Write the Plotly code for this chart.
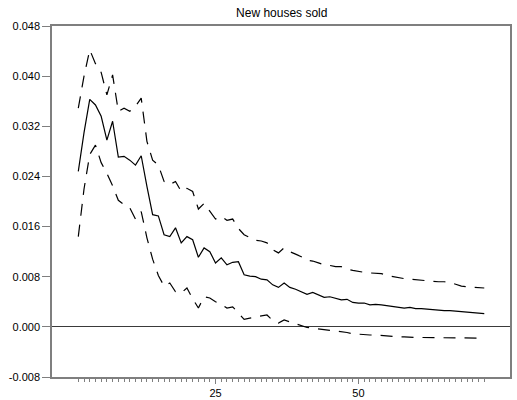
import plotly.graph_objects as go

# Impulse response of new houses sold, with upper/lower error bands
horizon = list(range(1, 73))

response = [
    0.0248, 0.0310, 0.0363, 0.0354, 0.0336, 0.0298, 0.0328, 0.0271, 0.0272, 0.0266,
    0.0258, 0.0273, 0.0224, 0.0179, 0.0177, 0.0147, 0.0144, 0.0158, 0.0134, 0.0144,
    0.0139, 0.0111, 0.0126, 0.0120, 0.0102, 0.0110, 0.0099, 0.0103, 0.0104, 0.0083,
    0.0081, 0.0080, 0.0076, 0.0075, 0.0067, 0.0063, 0.0070, 0.0063, 0.0060, 0.0056,
    0.0052, 0.0055, 0.0051, 0.0047, 0.0048, 0.0045, 0.0043, 0.0044, 0.0039, 0.0038,
    0.0038, 0.0035, 0.0036, 0.0035, 0.0034, 0.0032, 0.0031, 0.0030, 0.0031, 0.0029,
    0.0029, 0.0028, 0.0027, 0.0027, 0.0026, 0.0026, 0.0025, 0.0024, 0.0023, 0.0023,
    0.0022, 0.0021,
]

upper_band = [
    0.0349, 0.0400, 0.0442, 0.0420, 0.0406, 0.0370, 0.0402, 0.0344, 0.0349, 0.0344,
    0.0352, 0.0365, 0.0296, 0.0266, 0.0258, 0.0232, 0.0227, 0.0232, 0.0216, 0.0221,
    0.0216, 0.0188, 0.0197, 0.0184, 0.0172, 0.0176, 0.0170, 0.0172, 0.0157, 0.0147,
    0.0142, 0.0138, 0.0137, 0.0134, 0.0123, 0.0118, 0.0126, 0.0120, 0.0116, 0.0112,
    0.0106, 0.0105, 0.0102, 0.0099, 0.0098, 0.0096, 0.0096, 0.0092, 0.0090, 0.0088,
    0.0087, 0.0086, 0.0085, 0.0085, 0.0082, 0.0080, 0.0078, 0.0077, 0.0076, 0.0075,
    0.0074, 0.0073, 0.0073, 0.0072, 0.0072, 0.0071, 0.0068, 0.0065, 0.0064, 0.0063,
    0.0062, 0.0062,
]

lower_band = [
    0.0144, 0.0220, 0.0275, 0.0290, 0.0262, 0.0245, 0.0225, 0.0202, 0.0195, 0.0190,
    0.0172, 0.0184, 0.0142, 0.0108, 0.0082, 0.0065, 0.0070, 0.0056, 0.0054, 0.0062,
    0.0045, 0.0030, 0.0048, 0.0046, 0.0040, 0.0036, 0.0030, 0.0032, 0.0022, 0.0012,
    0.0014, 0.0016, 0.0017, 0.0019, 0.0010, 0.0006, 0.0011, 0.0008, 0.0006, 0.0003,
    -0.0001, -0.0002, -0.0003, -0.0005, -0.0005, -0.0006, -0.0008, -0.0009, -0.0011, -0.0012,
    -0.0012, -0.0013, -0.0013, -0.0014, -0.0015, -0.0015, -0.0016, -0.0016, -0.0017, -0.0017,
    -0.0017, -0.0017, -0.0017, -0.0017, -0.0017, -0.0018, -0.0018, -0.0018, -0.0018, -0.0018,
    -0.0018, -0.0018,
]

y_ticks = [-0.008, 0.000, 0.008, 0.016, 0.024, 0.032, 0.040, 0.048]
y_tick_text = ["-0.008", "0.000", "0.008", "0.016", "0.024", "0.032", "0.040", "0.048"]
x_ticks = [25, 50]

FONT = "Liberation Sans, Arial, sans-serif"
AXIS_GREY = "#7f7f7f"

fig = go.Figure()
for band in (upper_band, lower_band):
    fig.add_trace(go.Scatter(
        x=horizon, y=band, mode="lines",
        line=dict(color="black", width=1.2, dash="12px,9px"),
        hoverinfo="skip",
    ))
fig.add_trace(go.Scatter(
    x=horizon, y=response, mode="lines",
    line=dict(color="black", width=1.2),
))

fig.update_layout(
    width=517, height=400,
    margin=dict(l=52, r=7, t=26, b=23, pad=0, autoexpand=False),
    paper_bgcolor="white", plot_bgcolor="white",
    showlegend=False,
    font=dict(family=FONT, size=11, color="black"),
    title=dict(text="New houses sold", x=0.545, xanchor="center",
               y=0.978, yanchor="top", font=dict(family=FONT, size=12, color="black")),
    xaxis=dict(
        range=[-3.6, 76.5], automargin=False,
        tickmode="array", tickvals=x_ticks, ticktext=[str(v) for v in x_ticks],
        ticks="outside", ticklen=5, tickwidth=1, tickcolor=AXIS_GREY,
        minor=dict(tickmode="array", tickvals=horizon, ticks="outside",
                   ticklen=3, tickwidth=1, tickcolor=AXIS_GREY, showgrid=False),
        showgrid=False, zeroline=False,
        showline=True, linecolor=AXIS_GREY, linewidth=1.5, mirror=True,
        tickfont=dict(family=FONT, size=11, color="black"),
    ),
    yaxis=dict(
        range=[-0.008, 0.048], automargin=False,
        tickmode="array", tickvals=y_ticks, ticktext=y_tick_text,
        ticks="outside", ticklen=8, tickwidth=1, tickcolor=AXIS_GREY,
        showgrid=False,
        zeroline=True, zerolinecolor="#3a3a3a", zerolinewidth=1,
        showline=True, linecolor=AXIS_GREY, linewidth=1.5, mirror=True,
        tickfont=dict(family=FONT, size=11, color="black"),
    ),
)

fig.write_html("out.html")
